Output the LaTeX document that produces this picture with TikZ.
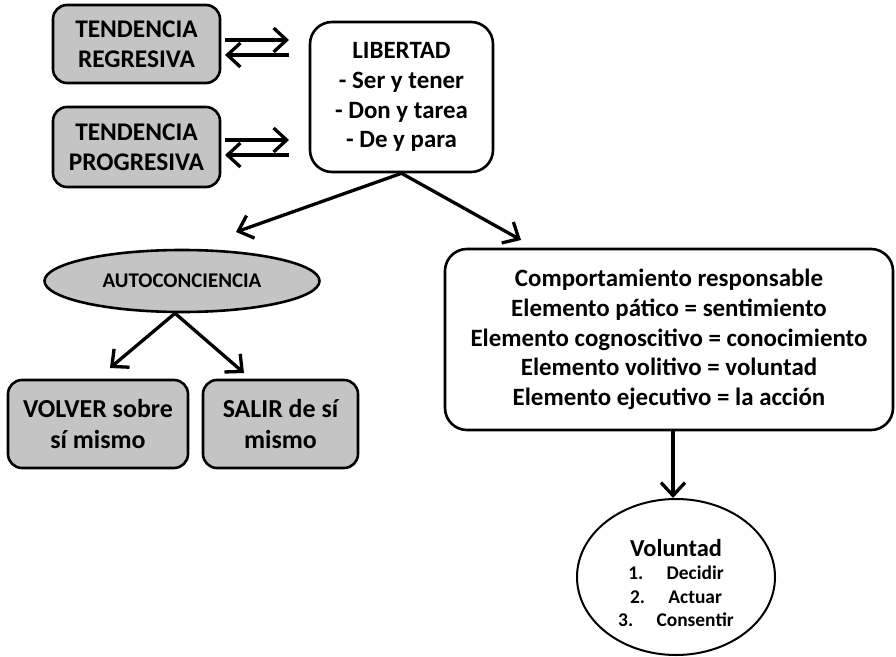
\documentclass[tikz,border=0pt]{standalone}
\usepackage{fontspec}
\setmainfont{Carlito}
\usetikzlibrary{arrows.meta,shapes.geometric}
\definecolor{boxgray}{RGB}{196,196,196}
\tikzset{
  base/.style={draw=black, line width=2.6bp, inner sep=0pt, align=center, font=\bfseries\fontsize{25}{30}\selectfont},
  graybox/.style={base, fill=boxgray, rounded corners=14bp},
  whitebox/.style={base, fill=white, rounded corners=22bp},
  arr/.style={line width=3.3bp, -{Straight Barb[length=13bp,width=24bp,line width=3.3bp]}},
}
\begin{document}
\begin{tikzpicture}[x=1bp,y=-1bp]
\useasboundingbox (0,0) rectangle (896,657);
\node[graybox, minimum width=167bp, minimum height=78bp, font=\bfseries\fontsize{25.5}{30}\selectfont] (TR) at (136.5,44) {TENDENCIA\\REGRESIVA};
\node[graybox, minimum width=167bp, minimum height=80bp, font=\bfseries\fontsize{25.5}{30}\selectfont] (TP) at (136.5,147) {TENDENCIA\\PROGRESIVA};
\node[whitebox, minimum width=183bp, minimum height=150bp, font=\bfseries\fontsize{25}{30}\selectfont] (LIB) at (401.5,97) {LIBERTAD\\- Ser y tener\\- Don y tarea\\- De y para};
\node[base, ellipse, fill=boxgray, minimum width=275bp, minimum height=62bp, font=\bfseries\fontsize{21}{24}\selectfont] (AUTO) at (182,281) {AUTOCONCIENCIA};
\node[graybox, minimum width=180bp, minimum height=88bp, font=\bfseries\fontsize{26}{32}\selectfont] (VOL) at (98,424) {VOLVER sobre\\sí mismo};
\node[graybox, minimum width=155bp, minimum height=88bp, font=\bfseries\fontsize{26}{32}\selectfont] (SAL) at (280.5,424) {SALIR de sí\\mismo};
\node[whitebox, minimum width=448bp, minimum height=181bp, font=\bfseries\fontsize{25}{29.8}\selectfont] (BIG) at (669,339.5) {Comportamiento responsable\\Elemento pático = sentimiento\\Elemento cognoscitivo = conocimiento\\Elemento volitivo = voluntad\\Elemento ejecutivo = la acción};
\node[base, ellipse, fill=white, line width=2bp, minimum width=198bp, minimum height=156bp] (VLT) at (676,577) {};
\node[align=center, inner sep=0pt, font=\bfseries\fontsize{19.5}{23.5}\selectfont] (VLTtext) at (676,583) {{\fontsize{24.5}{27}\selectfont Voluntad}\\1.\hspace{1.2em}Decidir\\2.\hspace{1.2em}Actuar\\3.\hspace{1.2em}Consentir};
% double arrows
\coordinate (r1a) at (225,40); \coordinate (r1b) at (289,40);
\coordinate (l1a) at (289,55); \coordinate (l1b) at (225,55);
\coordinate (r2a) at (225,140); \coordinate (r2b) at (289,140);
\coordinate (l2a) at (289,155); \coordinate (l2b) at (225,155);
\draw[arr] (r1a) -- (r1b);
\draw[arr] (l1a) -- (l1b);
\draw[arr] (r2a) -- (r2b);
\draw[arr] (l2a) -- (l2b);
% from LIBERTAD
\coordinate (la) at (236,232);
\coordinate (lb) at (521,240);
\draw[arr] (LIB.south) -- (la);
\draw[arr] (LIB.south) -- (lb);
% from AUTOCONCIENCIA
\coordinate (aa) at (110,368);
\coordinate (ab) at (244,373);
\draw[arr] ([xshift=-7bp]AUTO.south) -- (aa);
\draw[arr] ([xshift=-7bp]AUTO.south) -- (ab);
% to Voluntad
\draw[arr] ([xshift=-3bp]VLT.north |- BIG.south) -- ([xshift=-3bp]VLT.north);
\end{tikzpicture}
\end{document}
